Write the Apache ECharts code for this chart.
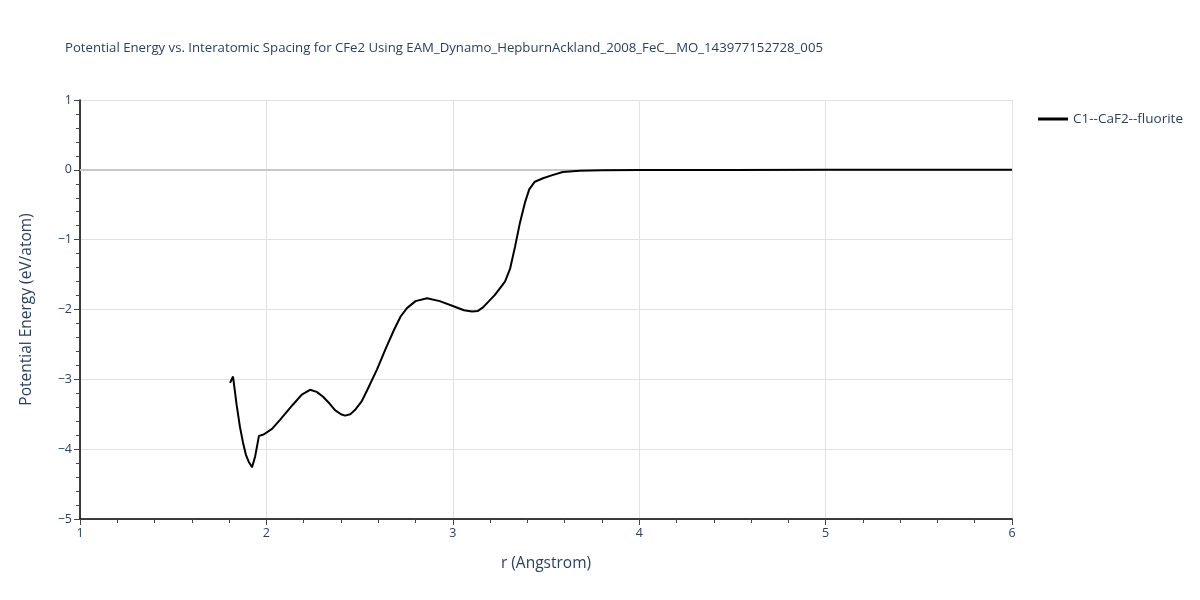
<!DOCTYPE html>
<html><head><meta charset="utf-8">
<script src="https://cdn.jsdelivr.net/npm/echarts@6/dist/echarts.min.js"></script>
<style>html,body{margin:0;padding:0;background:#fff}#c{width:1200px;height:600px}</style>
</head><body><div id="c"></div>
<script>
const seriesName = "C1--CaF2--fluorite";
const rValues = [1.805,1.821,1.840,1.858,1.874,1.890,1.905,1.923,1.940,1.960,1.985,2.030,2.073,2.143,2.190,2.234,2.270,2.304,2.340,2.368,2.400,2.422,2.450,2.475,2.510,2.540,2.593,2.640,2.685,2.720,2.754,2.800,2.862,2.930,3.000,3.060,3.103,3.135,3.162,3.226,3.280,3.307,3.334,3.360,3.387,3.410,3.440,3.484,3.530,3.590,3.680,3.800,4.000,4.500,5.000,5.500,6.000];
const energy = [-3.05,-2.96,-3.36,-3.68,-3.90,-4.08,-4.18,-4.26,-4.10,-3.81,-3.79,-3.71,-3.58,-3.36,-3.22,-3.15,-3.18,-3.25,-3.35,-3.44,-3.50,-3.52,-3.50,-3.44,-3.32,-3.16,-2.86,-2.56,-2.29,-2.10,-1.98,-1.88,-1.84,-1.88,-1.95,-2.01,-2.03,-2.02,-1.97,-1.79,-1.60,-1.42,-1.10,-0.76,-0.47,-0.28,-0.17,-0.12,-0.08,-0.03,-0.012,-0.005,-0.002,-0.001,0,0,0];
const xTicks = {min:1, max:6, interval:1};
const yTicks = {min:-5, max:1, interval:1};
const data = rValues.map((r,i)=>[r, energy[i]]);
const txt = '#2a3f5f';
const font = '"Open Sans", Verdana, Arial, sans-serif';
const chart = echarts.init(document.getElementById('c'), null, {renderer:'canvas'});
chart.setOption({
  animation:false,
  backgroundColor:'#fff',
  title:{text:'Potential Energy vs. Interatomic Spacing for CFe2 Using EAM_Dynamo_HepburnAckland_2008_FeC__MO_143977152728_005',
    left:60, top:37, textStyle:{fontFamily:font, fontSize:13.2, fontWeight:'normal', color:txt}},
  legend:{left:1033, top:107, itemWidth:30, itemHeight:3, itemGap:8,
    textStyle:{fontFamily:font, fontSize:13.5, color:txt}, data:[{name:seriesName, icon:'rect'}]},
  grid:{left:80, right:188, top:100, bottom:81, containLabel:false},
  xAxis:{type:'value', min:xTicks.min, max:xTicks.max, interval:xTicks.interval,
    name:'r (Angstrom)', nameLocation:'middle', nameGap:37,
    nameTextStyle:{fontFamily:font, fontSize:15.5, color:txt},
    axisLine:{show:true, onZero:false, lineStyle:{color:'#000', width:1.5}},
    axisTick:{show:true, length:6, lineStyle:{color:'#444'}},
    minorTick:{show:true, splitNumber:5, length:4, lineStyle:{color:'#444'}},
    axisLabel:{fontFamily:font, fontSize:12.5, color:txt, margin:8},
    splitLine:{show:true, lineStyle:{color:'#e2e2e2', width:1}}},
  yAxis:{type:'value', min:yTicks.min, max:yTicks.max, interval:yTicks.interval,
    name:'Potential Energy (eV/atom)', nameLocation:'middle', nameGap:45,
    nameTextStyle:{fontFamily:font, fontSize:15.5, color:txt},
    axisLine:{show:true, onZero:false, lineStyle:{color:'#000', width:1.5}},
    axisTick:{show:true, length:6, lineStyle:{color:'#444'}},
    minorTick:{show:true, splitNumber:5, length:4, lineStyle:{color:'#444'}},
    axisLabel:{fontFamily:font, fontSize:12.5, color:txt, margin:8,
      formatter:v=> v<0 ? '\u2212'+Math.abs(v) : String(v)},
    splitLine:{show:true, lineStyle:{color:'#e2e2e2', width:1}}},
  series:[{name:seriesName, type:'line', data:data, symbol:'none', smooth:false,
    lineStyle:{color:'#000', width:2}, itemStyle:{color:'#000'}, z:5,
    markLine:{silent:true, symbol:['none','none'], label:{show:false},
      lineStyle:{color:'#c8c8c8', width:2, type:'solid'}, data:[{yAxis:0}], z:1}}]
});
</script></body></html>
